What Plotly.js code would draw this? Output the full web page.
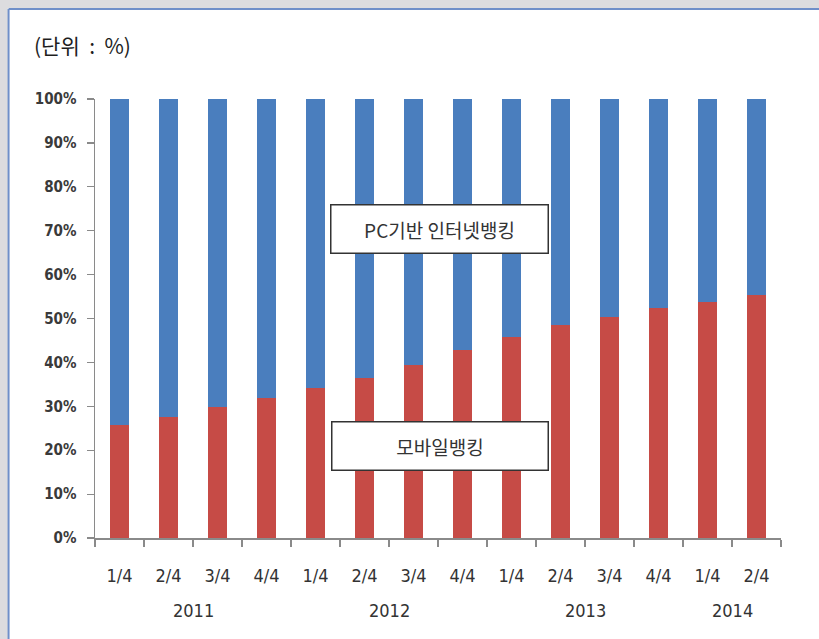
<!DOCTYPE html>
<html>
<head>
<meta charset="utf-8">
<script src="https://cdn.plot.ly/plotly-3.0.1.min.js"></script>
<style>
html,body{margin:0;padding:0;background:#ffffff;}
#chart{width:819px;height:639px;}
</style>
</head>
<body>
<div id="chart"></div>
<script>
// Data
const quarters = ["1/4","2/4","3/4","4/4","1/4","2/4","3/4","4/4","1/4","2/4","3/4","4/4","1/4","2/4"];
const years = ["2011","2012","2013","2014"];
const yearCenters = [1.5, 5.5, 9.5, 12.5];
const mobileBanking = [25.7, 27.6, 29.9, 31.8, 34.1, 36.4, 39.4, 42.8, 45.9, 48.5, 50.4, 52.3, 53.8, 55.4];
const pcBanking = mobileBanking.map(v => 100 - v);
const seriesNames = ["모바일뱅킹", "PC기반 인터넷뱅킹"];
const unitLabel = "(단위\u00A0\u00A0:\u00A0\u00A0%)";

const xs = quarters.map((q, i) => i);

const traces = [
  {type:"bar", x: xs, y: mobileBanking, name: seriesNames[0], marker:{color:"#c64b46"}, width:0.39, hoverinfo:"y"},
  {type:"bar", x: xs, y: pcBanking, name: seriesNames[1], marker:{color:"#4a7ebe"}, width:0.39, hoverinfo:"y"}
];

const axisColor = "#8a8a8a";
const tickFont = {family:"DejaVu Sans Condensed, Liberation Sans Narrow, sans-serif", size:18, color:"#333333"};

const annotations = [
  {xref:"paper", yref:"paper", x:-0.092, y:1.122, xanchor:"left", yanchor:"middle", text:unitLabel, showarrow:false,
   font:{family:"Noto Sans CJK KR, sans-serif", size:21, color:"#1e1e1e"}},
  {xref:"x", yref:"y", x:6.54, y:70.5, text:seriesNames[1], showarrow:false, bgcolor:"#ffffff",
   bordercolor:"#333333", borderwidth:1.5, width:214, height:45,
   font:{family:"Noto Sans CJK KR, sans-serif", size:19, color:"#333"}},
  {xref:"x", yref:"y", x:6.55, y:20.85, text:seriesNames[0], showarrow:false, bgcolor:"#ffffff",
   bordercolor:"#333333", borderwidth:1.5, width:213, height:45,
   font:{family:"Noto Sans CJK KR, sans-serif", size:19, color:"#333"}}
];
years.forEach((yr, i) => {
  annotations.push({xref:"x", yref:"paper", x:yearCenters[i], y:-0.165, yanchor:"middle", text:yr, showarrow:false, font:tickFont});
});

const layout = {
  width:819, height:639,
  margin:{l:95, r:38, t:99, b:101},
  paper_bgcolor:"#ffffff",
  plot_bgcolor:"rgba(0,0,0,0)",
  barmode:"stack",
  showlegend:false,
  xaxis:{
    range:[-0.5, 13.5], tickmode:"array", tickvals:xs, ticktext:quarters,
    ticks:"", showgrid:false, zeroline:false, showline:true, linecolor:axisColor, linewidth:1.5,
    tickfont:tickFont, ticklabelstandoff:21,
    minor:{tickmode:"linear", tick0:-0.5, dtick:1, ticks:"outside", ticklen:7, tickcolor:axisColor, tickwidth:1.2, showgrid:false}
  },
  yaxis:{
    range:[0,100], tickmode:"linear", tick0:0, dtick:10, ticksuffix:"%",
    ticks:"outside", ticklen:7, tickcolor:axisColor, tickwidth:1.2,
    showgrid:false, zeroline:false, showline:true, linecolor:axisColor, linewidth:1.5,
    tickfont:{family:"DejaVu Sans Condensed, Liberation Sans, sans-serif", size:15, color:"#3a3a3a", weight:"bold"}, ticklabelstandoff:7
  },
  annotations: annotations,
  shapes:[
    {type:"rect", xref:"paper", yref:"paper", layer:"below", x0:-0.2, x1:1.2, y0:1.207, y1:1.3, fillcolor:"#dcdcdf", line:{width:0}},
    {type:"rect", xref:"paper", yref:"paper", layer:"below", x0:-0.2, x1:-0.127, y0:-0.3, y1:1.3, fillcolor:"#dcdcdf", line:{width:0}},
    {type:"line", xref:"paper", yref:"paper", layer:"below", x0:-0.126, x1:1.2, y0:1.205, y1:1.205, line:{color:"#6f8fc9", width:2}},
    {type:"line", xref:"paper", yref:"paper", layer:"below", x0:-0.126, x1:-0.126, y0:-0.3, y1:1.205, line:{color:"#6f8fc9", width:2}}
  ]
};

Plotly.newPlot("chart", traces, layout, {displayModeBar:false, staticPlot:true});
</script>
</body>
</html>
